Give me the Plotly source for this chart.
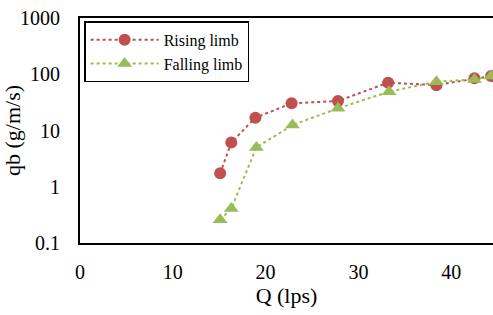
import plotly.graph_objects as go

# Data
q_rising = [15.1, 16.3, 18.9, 22.8, 27.8, 33.2, 38.4, 42.5, 44.3]
qb_rising = [1.73, 6.1, 16.9, 30.4, 33.5, 70.8, 64.0, 84.7, 93.0]
q_falling = [15.1, 16.3, 19.0, 22.9, 27.8, 33.3, 38.4, 42.5, 44.3]
qb_falling = [0.26, 0.41, 5.0, 12.5, 24.8, 49.0, 73.8, 81.0, 93.0]

y_tickvals = [0.1, 1, 10, 100, 1000]
y_ticktext = ["0.1", "1", "10", "100", "1000"]
x_tickvals = [0, 10, 20, 30, 40]

red = "#C0504D"
green = "#9BBB59"
ff = "Liberation Serif, serif"

fig = go.Figure()
fig.add_trace(go.Scatter(
    x=q_rising, y=qb_rising, mode="lines+markers", name="Rising limb",
    line=dict(color=red, width=2, dash="dot"),
    marker=dict(symbol="circle", size=12, color=red),
    cliponaxis=False,
))
fig.add_trace(go.Scatter(
    x=q_falling, y=qb_falling, mode="lines+markers", name="Falling limb",
    line=dict(color=green, width=2, dash="dot"),
    marker=dict(symbol="triangle-up", size=13, color=green),
    cliponaxis=False,
))

fig.update_layout(
    width=493, height=315,
    margin=dict(l=80, r=0, t=18, b=72, autoexpand=False),
    paper_bgcolor="white", plot_bgcolor="white",
    font=dict(color="black", size=20, family=ff),
    showlegend=True,
    legend=dict(
        x=0.01, y=0.985, xanchor="left", yanchor="top",
        bgcolor="white", bordercolor="black", borderwidth=1.5,
        font=dict(size=16, family=ff, color="black"),
        itemwidth=68, tracegroupgap=0,
    ),
    xaxis=dict(
        range=[0, 44.5], tickvals=x_tickvals, automargin=False,
        showgrid=False, zeroline=False,
        showline=True, linecolor="black", linewidth=2, mirror=True,
        ticks="", ticklabelstandoff=10,
        tickfont=dict(size=20, family=ff, color="black"),
        title=dict(text="Q (lps)", font=dict(size=22, family=ff, color="black"), standoff=0),
    ),
    yaxis=dict(
        type="log", range=[-1, 3], tickvals=y_tickvals, ticktext=y_ticktext,
        automargin=False,
        showgrid=False, zeroline=False,
        showline=True, linecolor="black", linewidth=2,
        ticks="", ticklabelstandoff=14,
        tickfont=dict(size=20, family=ff, color="black"),
        title=dict(text="qb (g/m/s)", font=dict(size=22, family=ff, color="black"), standoff=0),
    ),
)

fig.write_html("out.html", config={"displayModeBar": False},
               post_script="document.body.style.margin='0';")
